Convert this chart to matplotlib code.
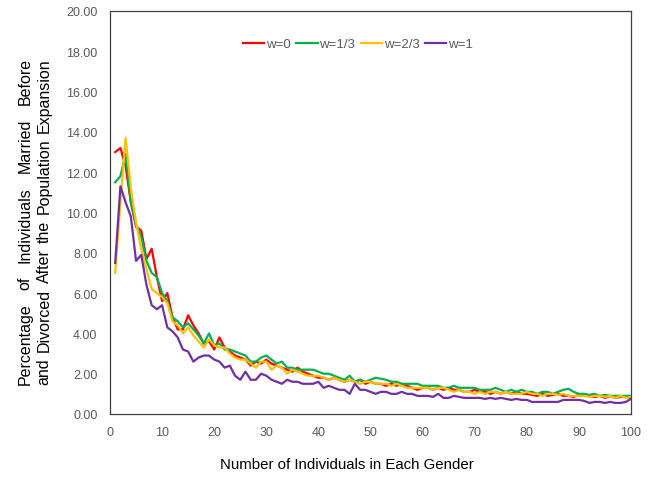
import matplotlib
matplotlib.use("Agg")
import matplotlib.pyplot as plt
import numpy as np

plt.rcParams['font.family'] = ['Liberation Sans', 'DejaVu Sans']

# data (x = 1..100)
n_individuals = list(range(1, 101))

w0 = [13.0, 13.2, 12.3, 10.5, 9.3, 9.1, 7.7, 8.2, 6.8, 5.6,
      6.0, 4.8, 4.2, 4.2, 4.9, 4.4, 4.0, 3.5, 3.6, 3.2,
      3.8, 3.3, 3.1, 2.9, 2.8, 2.7, 2.4, 2.6, 2.5, 2.7,
      2.5, 2.4, 2.3, 2.2, 2.1, 2.3, 2.1, 2.0, 1.9, 1.8,
      1.8, 1.7, 1.8, 1.7, 1.6, 1.7, 1.6, 1.7, 1.5, 1.6,
      1.5, 1.5, 1.4, 1.5, 1.4, 1.5, 1.4, 1.3, 1.2, 1.3,
      1.3, 1.2, 1.3, 1.2, 1.3, 1.2, 1.2, 1.1, 1.1, 1.2,
      1.1, 1.1, 1.0, 1.1, 1.0, 1.1, 1.0, 1.1, 1.0, 1.0,
      0.95, 0.9, 1.0, 0.9, 0.95, 1.0, 0.9, 0.9, 0.85, 0.95,
      0.9, 0.9, 0.85, 0.9, 0.8, 0.9, 0.8, 0.85, 0.85, 0.8]

w13 = [11.5, 11.8, 12.9, 10.5, 9.4, 8.8, 7.6, 7.0, 6.8, 6.0,
       5.6, 4.8, 4.6, 4.3, 4.5, 4.2, 3.9, 3.5, 4.0, 3.4,
       3.5, 3.2, 3.2, 3.1, 3.0, 2.9, 2.6, 2.6, 2.8, 2.9,
       2.7, 2.5, 2.6, 2.3, 2.3, 2.2, 2.2, 2.2, 2.2, 2.1,
       2.0, 2.0, 1.9, 1.8, 1.7, 1.9, 1.6, 1.7, 1.6, 1.7,
       1.8, 1.75, 1.7, 1.6, 1.6, 1.5, 1.5, 1.5, 1.5, 1.4,
       1.4, 1.4, 1.4, 1.3, 1.3, 1.4, 1.3, 1.3, 1.3, 1.3,
       1.2, 1.2, 1.2, 1.3, 1.2, 1.1, 1.2, 1.1, 1.2, 1.1,
       1.1, 1.0, 1.1, 1.1, 1.0, 1.1, 1.2, 1.25, 1.1, 1.0,
       1.0, 0.95, 1.0, 0.9, 0.95, 0.9, 0.9, 0.9, 0.9, 0.9]

w23 = [7.0, 10.5, 13.7, 11.2, 9.5, 8.2, 7.2, 6.2, 6.0, 5.8,
       5.5, 4.6, 4.4, 4.0, 4.3, 3.9, 3.6, 3.3, 3.7, 3.4,
       3.3, 3.3, 3.0, 2.8, 2.7, 2.7, 2.5, 2.3, 2.6, 2.6,
       2.2, 2.4, 2.3, 2.0, 2.2, 2.1, 2.0, 1.9, 1.9, 1.9,
       1.8, 1.7, 1.8, 1.7, 1.6, 1.7, 1.6, 1.5, 1.6, 1.6,
       1.5, 1.5, 1.5, 1.4, 1.5, 1.4, 1.3, 1.3, 1.3, 1.3,
       1.3, 1.2, 1.3, 1.3, 1.2, 1.1, 1.2, 1.1, 1.1, 1.0,
       1.1, 1.0, 1.1, 1.1, 1.0, 1.1, 1.0, 1.0, 1.0, 1.1,
       1.0, 1.0, 0.9, 1.0, 1.0, 0.95, 1.0, 0.9, 0.9, 0.9,
       0.9, 0.85, 0.9, 0.9, 0.85, 0.9, 0.8, 0.9, 0.8, 0.85]

w1 = [7.5, 11.3, 10.5, 9.8, 7.6, 7.9, 6.4, 5.4, 5.2, 5.4,
      4.3, 4.1, 3.8, 3.2, 3.1, 2.6, 2.8, 2.9, 2.9, 2.7,
      2.6, 2.3, 2.4, 1.9, 1.7, 2.1, 1.7, 1.7, 2.0, 1.9,
      1.7, 1.6, 1.5, 1.7, 1.6, 1.6, 1.5, 1.5, 1.5, 1.6,
      1.3, 1.4, 1.3, 1.2, 1.2, 1.0, 1.5, 1.2, 1.2, 1.1,
      1.0, 1.1, 1.1, 1.0, 1.0, 1.1, 1.0, 1.0, 0.9, 0.9,
      0.9, 0.85, 1.0, 0.8, 0.8, 0.9, 0.85, 0.8, 0.8, 0.8,
      0.8, 0.75, 0.8, 0.75, 0.8, 0.75, 0.7, 0.75, 0.7, 0.7,
      0.6, 0.6, 0.6, 0.6, 0.6, 0.6, 0.7, 0.7, 0.7, 0.7,
      0.65, 0.55, 0.6, 0.6, 0.55, 0.6, 0.55, 0.55, 0.6, 0.75]

series = [w0, w13, w23, w1]
labels = ['w=0', 'w=1/3', 'w=2/3', 'w=1']
colors = ['#FF0000', '#00B050', '#FFC000', '#7030A0']

W, H = 654, 481
fig = plt.figure(figsize=(W / 100, H / 100), dpi=100)
ax = fig.add_axes([110 / W, (H - 415) / H, 521 / W, 403 / H])

for ys, lab, c in zip(series, labels, colors):
    ax.plot(n_individuals, ys, color=c, lw=1.6, label=lab)

ax.set_xlim(0, 100)
ax.set_ylim(0, 20)
ax.set_xticks(np.arange(0, 101, 10))
ax.set_yticks(np.arange(0, 20.1, 2))
ax.set_yticklabels([f'{v:.2f}' for v in np.arange(0, 20.1, 2)])
ax.tick_params(length=0, labelsize=9, labelcolor='#595959', pad=9)
for sp in ax.spines.values():
    sp.set_color('#404040')
    sp.set_linewidth(0.9)

ax.legend(loc='center', bbox_to_anchor=(0.476, 0.918), ncol=4, frameon=False,
          fontsize=9.5, labelcolor='#595959', handlelength=1.6, handletextpad=0.15,
          columnspacing=0.4)

fig.text(347 / W, (H - 465) / H, 'Number of Individuals in Each Gender',
         ha='center', va='center', fontsize=10.8)

# justified two-line y label
lines = [('Percentage of Individuals Married Before', 25),
         ('and Divorced After the Population Expansion', 44)]
y_lo, y_hi = H - 385, H - 58
fig.canvas.draw()
renderer = fig.canvas.get_renderer()
for text, xc in lines:
    words = text.split()
    objs = [fig.text(0, 0, w, rotation=90, fontsize=11.5, ha='center', va='bottom')
            for w in words]
    sizes = [o.get_window_extent(renderer).height for o in objs]
    gap = (y_hi - y_lo - sum(sizes)) / (len(words) - 1)
    pos = y_lo
    for o, s in zip(objs, sizes):
        o.set_position((xc / W, pos / H))
        pos += s + gap

fig.savefig('out.png', dpi=100)
